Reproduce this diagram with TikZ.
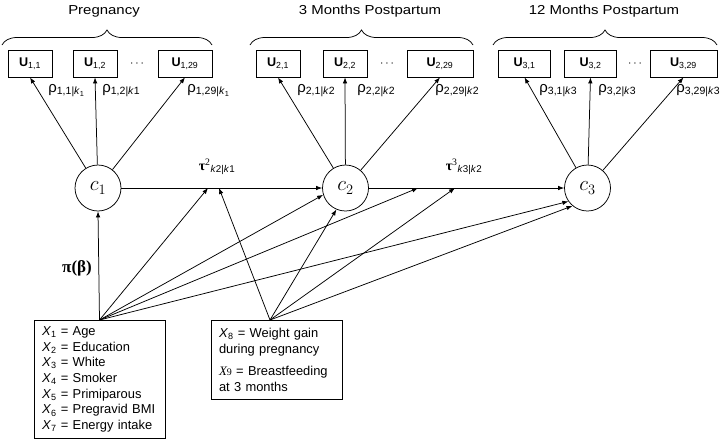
\documentclass[tikz,border=0pt]{standalone}
\usepackage{fontspec}
\setmainfont{Liberation Sans}
\newfontfamily\grk{Liberation Serif}
\newfontfamily\phasefont[FakeStretch=1.15]{Liberation Sans}
\usetikzlibrary{arrows.meta}
\usetikzlibrary{decorations.pathreplacing}

\begin{document}
\begin{tikzpicture}[
            x=1pt, y=-1pt, line width=0.75pt,
            >={Latex[length=6pt,width=4.5pt]},
            link/.style={->},
            ubox/.style={draw, minimum height=27pt, inner sep=0pt, font=\fontsize{12.6}{14}\selectfont},
            latent/.style={draw, circle, minimum size=46pt, inner sep=0pt, font=\fontsize{21}{21}\selectfont},
            covbox/.style={draw, anchor=north, align=left, text width=115pt, inner xsep=8pt, inner ysep=0pt, font=\fontsize{12.9}{15.7}\selectfont},
            rho/.style={anchor=base west, inner sep=0pt, font=\fontsize{15}{15}\selectfont},
            tau/.style={inner sep=0pt, font=\fontsize{14}{14}\selectfont},
            phase/.style={anchor=base, inner sep=0pt, font=\fontsize{13}{13}\phasefont},
            grp/.style={decorate, decoration={brace, amplitude=15pt}},
        ]
            \useasboundingbox (0,0) rectangle (720,440);

            % --- Measurement occasions: title, brace, items and latent class ---
            \foreach \g/\ua/\ub/\un/\wa/\wn/\dx/\cx/\bl/\br/\tx/\ttl in {
                1/30/95/185/44/54/137/98/2/212/104/Pregnancy,
                2/278/345/440/44/66/387/345.5/250/473/370/3 Months Postpartum,
                3/524.5/590.5/683.5/52/67/635/587.5/493/717/604/12 Months Postpartum} {
                \node[phase] (ttl\g) at (\tx,14) {\ttl};
                \draw[grp] (\bl,45) -- (\br,45);
                \node[ubox, minimum width=\wa pt] (u\g-1) at (\ua,63.5) {\textbf{U}\textsubscript{\g,1}};
                \node[ubox, minimum width=\wa pt] (u\g-2) at (\ub,63.5) {\textbf{U}\textsubscript{\g,2}};
                \node[ubox, minimum width=\wn pt] (u\g-n) at (\un,63.5) {\textbf{U}\textsubscript{\g,29}};
                \node[font=\fontsize{13}{13}\selectfont] (dots\g) at (\dx,63.5) {$\cdots$};
                \node[latent] (c\g) at (\cx,188) {$c_{\g}$};
                \foreach \u in {1, 2, n} {
                    \draw[link] (c\g) -- (u\g-\u.south);
                }
            }

            % --- Item-response probabilities ---
            \node[rho] (r11) at (48,92) {ρ\textsubscript{1,1|\textit{k}\textsubscript{1}}};
            \node[rho] (r12) at (102,92) {ρ\textsubscript{1,2|\textit{k}1}};
            \node[rho] (r1n) at (187,92) {ρ\textsubscript{1,29|\textit{k}\textsubscript{1}}};
            \node[rho] (r21) at (297,92) {ρ\textsubscript{2,1|\textit{k}2}};
            \node[rho] (r22) at (357,92) {ρ\textsubscript{2,2|\textit{k}2}};
            \node[rho] (r2n) at (435,92) {ρ\textsubscript{2,29|\textit{k}2}};
            \node[rho] (r31) at (539,92) {ρ\textsubscript{3,1|\textit{k}3}};
            \node[rho] (r32) at (598,92) {ρ\textsubscript{3,2|\textit{k}3}};
            \node[rho] (r3n) at (676,92) {ρ\textsubscript{3,29|\textit{k}3}};

            % --- Transitions between latent classes ---
            \draw[link] (c1) -- (c2);
            \draw[link] (c2) -- (c3);
            \node[tau] (tau2) at (217,167) {{\grk\bfseries τ}\textsuperscript{\grk 2}\textsubscript{\textit{k}2|\textit{k}1}};
            \node[tau] (tau3) at (464,167) {{\grk\bfseries τ}\textsuperscript{\grk 3}\textsubscript{\textit{k}3|\textit{k}2}};
            \coordinate (t2a) at (208,188);
            \coordinate (t2b) at (219,188);
            \coordinate (t3a) at (418,188);
            \coordinate (t3b) at (455,188);

            % --- Covariates ---
            \node[covbox, minimum height=118pt] (covA) at (99.5,320) {%
                \textit{X}\textsubscript{1} = Age\\
                \textit{X}\textsubscript{2} = Education\\
                \textit{X}\textsubscript{3} = White\\
                \textit{X}\textsubscript{4} = Smoker\\
                \textit{X}\textsubscript{5} = Primiparous\\
                \textit{X}\textsubscript{6} = Pregravid BMI\\
                \textit{X}\textsubscript{7} = Energy intake};
            \node[covbox, minimum height=79pt] (covB) at (276.5,320) {%
                \textit{X}\textsubscript{8} = Weight gain\\
                during pregnancy\\[7pt]
                {\grk\itshape X}{\grk\fontsize{10}{10}\selectfont 9} = Breastfeeding\\
                at 3 months};
            \coordinate (xb) at ([xshift=-6.5pt]covB.north);
            \node[font=\fontsize{17}{17}\grk\bfseries] (pib) at (77,268) {π(β)};

            \foreach \t in {c1.south, t2a, c2.197, t3a, c3.215} {
                \draw[link] (covA.north) -- (\t);
            }
            \foreach \t in {t2b, c2.247, t3b, c3.230} {
                \draw[link] (xb) -- (\t);
            }
        \end{tikzpicture}
\end{document}
